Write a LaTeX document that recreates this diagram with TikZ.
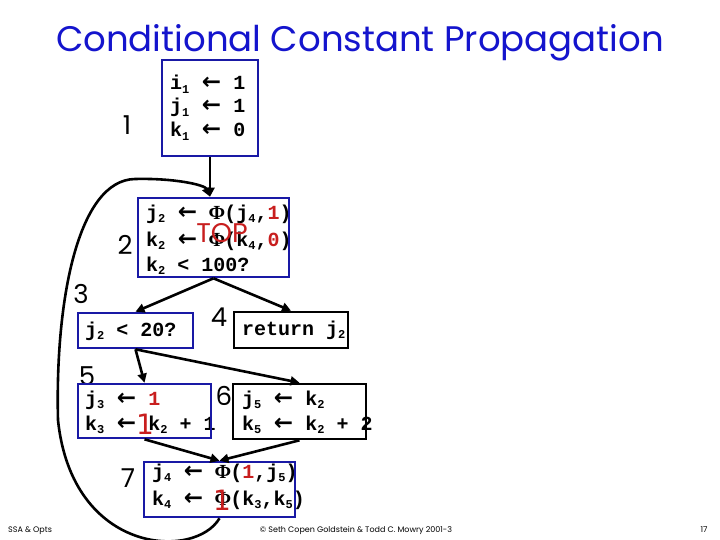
\documentclass[tikz,border=0pt]{standalone}
\usepackage{fontspec}
\usetikzlibrary{arrows.meta}
\setmainfont{Poppins}
\newfontfamily\codef{Liberation Mono}
\newfontfamily\arrf{DejaVu Sans}
\newfontfamily\phif{Liberation Serif}
\definecolor{tblue}{RGB}{20,20,205}
\definecolor{bblue}{RGB}{25,25,165}
\definecolor{cred}{RGB}{200,30,30}
\newcommand\sbs[1]{\raisebox{-3.5pt}{\fontsize{12}{12}\selectfont #1}}
\newcommand\larr{\makebox[20pt]{\arrf\bfseries\fontsize{23}{23}\selectfont ←}}
\newcommand\phis{\makebox[15pt]{\phif\bfseries\fontsize{20}{20}\selectfont Φ}}
\newcommand\rd[1]{\textcolor{cred}{#1}}
\tikzset{
  code/.style={anchor=base west, inner sep=0pt, font=\codef\bfseries\fontsize{20}{24}\selectfont},
  lbl/.style={inner sep=0pt, font=\fontsize{26}{26}\selectfont},
  redov/.style={inner sep=0pt, text=cred, font=\arrf\fontsize{28}{28}\selectfont},
  bx/.style={draw=bblue, line width=2.6pt, inner sep=0pt},
  bxk/.style={draw=black, line width=2.6pt, inner sep=0pt},
  conn/.style={line width=2.6pt, -{Triangle[length=9pt,width=9pt]}},
  foot/.style={inner sep=0pt, anchor=base, font=\fontsize{8}{8}\selectfont}
}
\begin{document}
\begin{tikzpicture}[x=1pt,y=-1pt]
\fill[white] (0,0) rectangle (720,540);
\useasboundingbox (0,0) rectangle (720,540);
% title
\node[anchor=base, inner sep=0pt, text=tblue, font=\fontsize{35.5}{36}\selectfont] (title) at (360,52) {Conditional Constant Propagation};
% labels
\node[lbl] (l1) at (127,125) {1};
\node[lbl] (l2) at (125,245) {2};
\node[lbl] (l3) at (81,294) {3};
\node[lbl] (l4) at (219,317) {4};
\node[lbl] (l5) at (87,376) {5};
\node[lbl] (l6) at (224,396) {6};
\node[lbl] (l7) at (128,478) {7};
% code text
\node[code] (t1a) at (170,90) {i\sbs{1} \larr{} 1};
\node[code] (t1b) at (170,113) {j\sbs{1} \larr{} 1};
\node[code] (t1c) at (170,137) {k\sbs{1} \larr{} 0};
\node[code] (t2a) at (146,219) {j\sbs{2} \larr{} \phis(j\sbs{4},\rd{1})};
\node[code] (t2b) at (146,246) {k\sbs{2} \larr{} \phis(k\sbs{4},\rd{0})};
\node[code] (t2c) at (146,271) {k\sbs{2} < 100?};
\node[code] (t3) at (85,336) {j\sbs{2} < 20?};
\node[code] (t4) at (242,335) {return j\sbs{2}};
\node[code] (t5a) at (85,405) {j\sbs{3} \larr{} \rd{1}};
\node[code] (t5b) at (85,430) {k\sbs{3} \larr{} k\sbs{2} + 1};
\node[code] (t6a) at (242,405) {j\sbs{5} \larr{} k\sbs{2}};
\node[code] (t6b) at (242,430) {k\sbs{5} \larr{} k\sbs{2} + 2};
\node[code] (t7a) at (152,478) {j\sbs{4} \larr{} \phis(\rd{1},j\sbs{5})};
\node[code] (t7b) at (152,505) {k\sbs{4} \larr{} \phis(k\sbs{3},k\sbs{5})};
% red overlays
\node[redov, font=\rmfamily\fontsize{27}{27}\selectfont] (top) at (222,233) {TOP};
\node[redov] (r5) at (145,424) {1};
\node[redov] (r7) at (222,500) {1};
% boxes
\node[bx, minimum width=96pt, minimum height=96pt] (b1) at (210,108) {};
\node[bx, minimum width=151pt, minimum height=79pt] (b2) at (213.5,237.5) {};
\node[bx, minimum width=115pt, minimum height=35pt] (b3) at (135.5,330.5) {};
\node[bxk, minimum width=114pt, minimum height=36pt] (b4) at (291,330) {};
\node[bx, minimum width=133pt, minimum height=54pt] (b5) at (144.5,411) {};
\node[bxk, minimum width=133pt, minimum height=55pt] (b6) at (299.5,411.5) {};
\node[bx, minimum width=151pt, minimum height=55pt] (b7) at (219.5,489.5) {};
% connectors
\draw[conn] (b1.south -| 210,0) -- (b2.north -| 210,0);
\draw[conn] (b2.south) -- (b3.north);
\draw[conn] (b2.south) -- (b4.north);
\draw[conn] (b3.south) -- (b5.north);
\draw[conn] (b3.south) -- (b6.north);
\draw[conn] (b5.south) -- (b7.north);
\draw[conn] (b6.south) -- (b7.north);
\draw[conn] (b7.south) .. controls (195,560) and (72,555) .. (58,420)
  .. controls (55,300) and (78,180) .. (135,179)
  .. controls (175,178) and (205,185) .. (b2.north -| 210,0);
% footer
\node[foot, anchor=base west] (f1) at (8,532) {SSA \& Opts};
\node[foot] (f2) at (356,532) {© Seth Copen Goldstein \& Todd C. Mowry 2001-3};
\node[foot] (f3) at (704,532) {17};
\end{tikzpicture}
\end{document}
